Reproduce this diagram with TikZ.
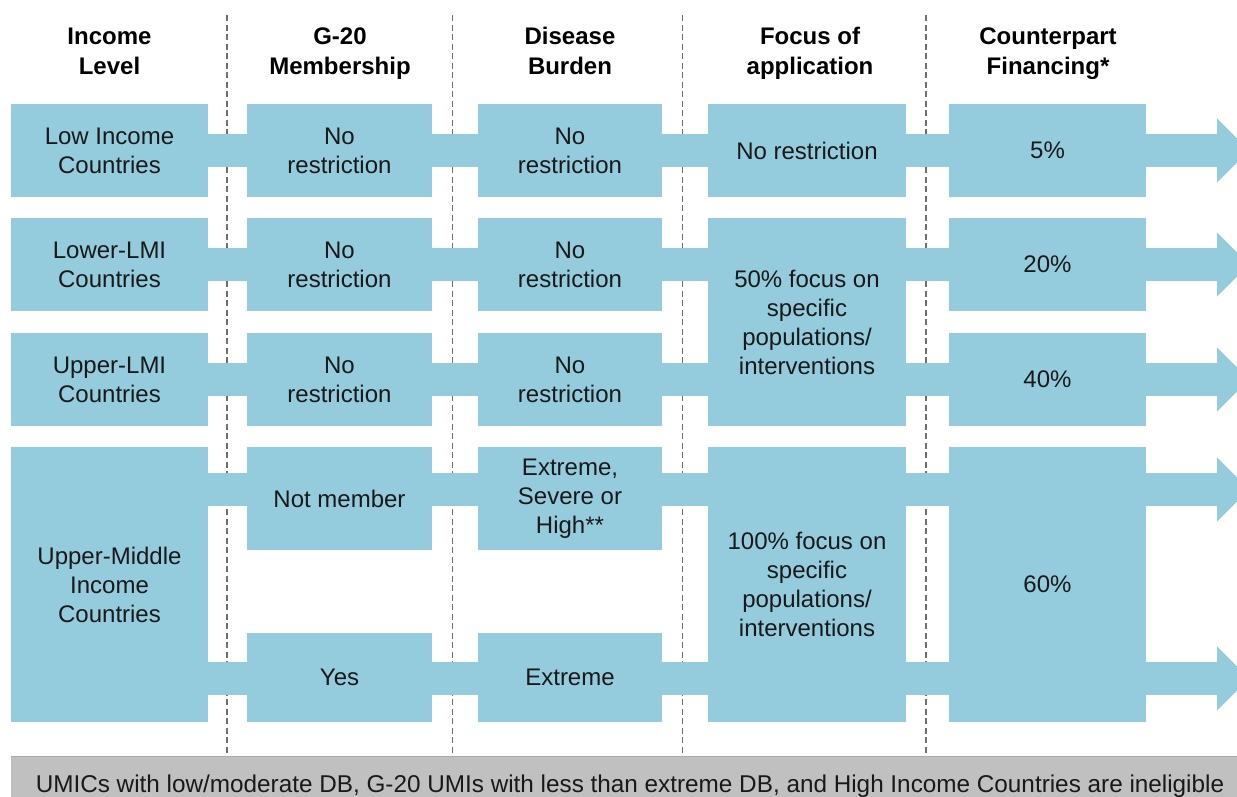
\documentclass[tikz,border=0pt]{standalone}
\usepackage{fontspec}
\setmainfont{Liberation Sans}
\usetikzlibrary{calc}
\definecolor{boxc}{RGB}{148,204,222}
\definecolor{barc}{RGB}{192,192,192}
\definecolor{barline}{RGB}{170,170,170}
\definecolor{dashc}{RGB}{110,110,110}
\definecolor{txt}{RGB}{25,25,25}
\begin{document}
\begin{tikzpicture}[x=1pt,y=-1pt,
  box/.style={fill=boxc, inner sep=0pt, align=center, text=txt, font=\fontsize{24}{29}\selectfont},
  hdr/.style={align=center, text=black, inner sep=0pt, font=\fontsize{24}{30}\selectfont\bfseries},
  conn/.style={draw=boxc, line width=33pt},
  head/.style={fill=boxc},
  sepline/.style={draw=dashc, line width=1.6pt, dash pattern=on 6pt off 3.5pt},
  c1/.style={box, minimum width=197pt},
  c2/.style={box, minimum width=185pt},
  c3/.style={box, minimum width=184pt},
  c4/.style={box, minimum width=198pt},
  c5/.style={box, minimum width=197pt},
  rowh/.style={minimum height=93pt}]
\useasboundingbox (0,0) rectangle (1237,796);

% dashed separators
\draw[sepline] (227,15) -- (227,756);
\draw[sepline] (452.5,15) -- (452.5,756);
\draw[sepline] (682.5,15) -- (682.5,756);
\draw[sepline] (926,15) -- (926,756);

% headers
\node[hdr] (h1) at (109.5,53) {Income\strut\\Level\strut};
\node[hdr] (h2) at (340,53) {G-20\strut\\Membership\strut};
\node[hdr] (h3) at (570,53) {Disease\strut\\Burden\strut};
\node[hdr] (h4) at (810,53) {Focus of\strut\\application\strut};
\node[hdr] (h5) at (1048,53) {Counterpart\strut\\Financing*\strut};

% row 1
\node[c1,rowh] (a1) at (109.5,150.5) {Low Income\\Countries};
\node[c2,rowh] (b1) at (339.5,150.5) {No\\restriction};
\node[c3,rowh] (d1) at (570,150.5) {No\\restriction};
\node[c4,rowh] (f1) at (807,150.5) {No restriction};
\node[c5,rowh] (e1) at (1047.5,150.5) {5\%};
% row 2
\node[c1,rowh] (a2) at (109.5,264.5) {Lower-LMI\\Countries};
\node[c2,rowh] (b2) at (339.5,264.5) {No\\restriction};
\node[c3,rowh] (d2) at (570,264.5) {No\\restriction};
\node[c5,rowh] (e2) at (1047.5,264.5) {20\%};
% row 3
\node[c1,rowh] (a3) at (109.5,379.5) {Upper-LMI\\Countries};
\node[c2,rowh] (b3) at (339.5,379.5) {No\\restriction};
\node[c3,rowh] (d3) at (570,379.5) {No\\restriction};
\node[c5,rowh] (e3) at (1047.5,379.5) {40\%};
% merged focus box rows 2-3
\node[c4, minimum height=208pt] (f23) at (807,322) {50\% focus on\\specific\\populations/\\interventions};
% row 4
\node[c1, minimum height=275pt] (a4) at (109.5,584.5) {Upper-Middle\\Income\\Countries};
\node[c2, minimum height=103pt] (b4) at (339.5,498.5) {Not member};
\node[c3, minimum height=103pt] (d4) at (570,498.5) {Extreme,\\Severe or\\High**};
\node[c2, minimum height=89pt] (b5) at (339.5,677.5) {Yes};
\node[c3, minimum height=89pt] (d5) at (570,677.5) {Extreme};
\node[c4, minimum height=275pt] (f4) at (807,584.5) {100\% focus on\\specific\\populations/\\interventions};
\node[c5, minimum height=275pt] (e4) at (1047.5,584.5) {60\%};

\coordinate (r4u) at (0,489.5);
\coordinate (r4l) at (0,678.5);

% connectors rows 1-3
\draw[conn] (a1.east) -- (b1.west);
\draw[conn] (b1.east) -- (d1.west);
\draw[conn] (d1.east) -- (f1.west);
\draw[conn] (f1.east) -- (e1.west);
\draw[conn] (a2.east) -- (b2.west);
\draw[conn] (b2.east) -- (d2.west);
\draw[conn] (d2.east) -- (f23.west |- d2.east);
\draw[conn] (f23.east |- e2.west) -- (e2.west);
\draw[conn] (a3.east) -- (b3.west);
\draw[conn] (b3.east) -- (d3.west);
\draw[conn] (d3.east) -- (f23.west |- d3.east);
\draw[conn] (f23.east |- e3.west) -- (e3.west);
% connectors row 4
\draw[conn] (a4.east |- r4u) -- (b4.west |- r4u);
\draw[conn] (b4.east |- r4u) -- (d4.west |- r4u);
\draw[conn] (d4.east |- r4u) -- (f4.west |- r4u);
\draw[conn] (f4.east |- r4u) -- (e4.west |- r4u);
\draw[conn] (a4.east |- r4l) -- (b5.west |- r4l);
\draw[conn] (b5.east |- r4l) -- (d5.west |- r4l);
\draw[conn] (d5.east |- r4l) -- (f4.west |- r4l);
\draw[conn] (f4.east |- r4l) -- (e4.west |- r4l);

% outgoing arrows
\coordinate (t1) at (1249,150.5);
\coordinate (t2) at (1249,264.5);
\coordinate (t3) at (1249,379.5);
\coordinate (t4) at (1249,489.5);
\coordinate (t5) at (1249,678.5);
\foreach \e/\t in {e1/t1,e2/t2,e3/t3,e4/t4,e4/t5}{
  \draw[conn] (\e.east |- \t) -- ($(\t)+(-32.5,0)$);
  \fill[head] (\t) -- ++(-32,-32) -- ++(0,64) -- cycle;
}

% bottom bar
\fill[barc] (11,756.5) rectangle (1240,800);
\draw[barline, line width=1pt] (11,756.5) -- (1237,756.5);
\node[anchor=base, inner sep=0pt, text=txt, font=\fontsize{24.3}{29}\selectfont] (note) at (630,792)
  {UMICs with low/moderate DB, G-20 UMIs with less than extreme DB, and High Income Countries are ineligible};
\end{tikzpicture}
\end{document}
